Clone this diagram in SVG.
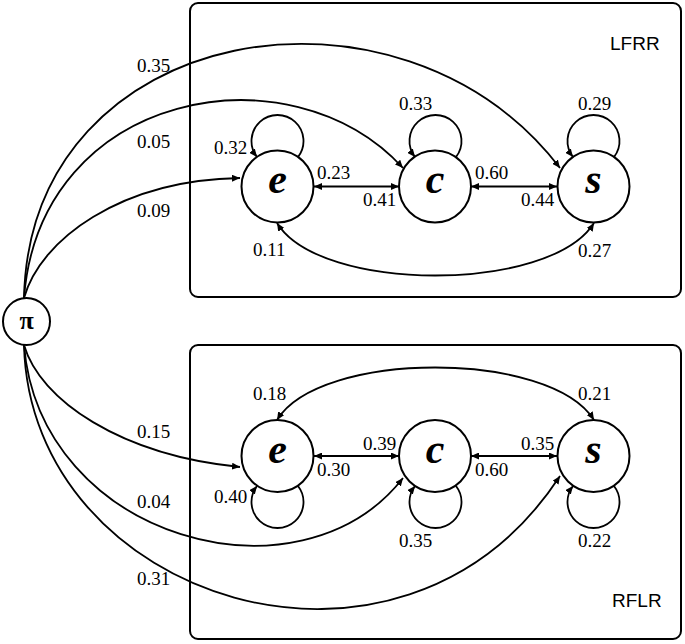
<svg xmlns="http://www.w3.org/2000/svg" width="685" height="644" viewBox="0 0 685 644">
<style>
.box{fill:none;stroke:#000;stroke-width:2}
.node{fill:#fff;stroke:#000;stroke-width:2}
.nl{font-family:"Liberation Serif",serif;font-weight:bold;font-style:italic;font-size:42px;text-anchor:middle}
.pl{font-family:"Liberation Serif",serif;font-weight:bold;font-size:26px;text-anchor:middle}
.e{fill:none;stroke:#000;stroke-width:1.8}
.one{marker-end:url(#ah)}
.two{marker-start:url(#ah);marker-end:url(#ah)}
.lb{font-family:"Liberation Serif",serif;font-size:19px;fill:#000}
.tt{font-family:"Liberation Sans",Arial,sans-serif;font-size:19px;fill:#000}
</style>
<defs>
<marker id="ah" markerUnits="userSpaceOnUse" markerWidth="9" markerHeight="7" refX="8" refY="3.5" orient="auto-start-reverse">
<path d="M0,0 L8,3.5 L0,7 z" fill="#000"/>
</marker>
</defs>
<rect width="685" height="644" fill="#fff"/>
<g id="box-lfrr">
<rect class="box" x="190" y="3" width="491" height="294" rx="8"/>
<text class="tt" x="610" y="50">LFRR</text>
</g>
<g id="box-rflr">
<rect class="box" x="190" y="345" width="491" height="294" rx="8"/>
<text class="tt" x="612" y="607">RFLR</text>
</g>
<g id="connectors">
<path class="e one" d="M24,298 C30,20 400,-40 560,168"/>
<path class="e one" d="M24,298 C40,90 290,45 403,168"/>
<path class="e one" d="M24,298 C40,240 120,180 240,178"/>
<path class="e one" d="M24,345 C40,400 120,455 240,467"/>
<path class="e one" d="M24,345 C40,540 300,610 403,478"/>
<path class="e one" d="M24,345 C30,600 400,720 560,476"/>
<path class="e one" d="M298,157 A26,26 0 1 0 257,157"/>
<path class="e one" d="M456,157 A26,26 0 1 0 415,157"/>
<path class="e one" d="M614,157 A26,26 0 1 0 573,157"/>
<path class="e one" d="M298,486 A26,26 0 1 1 257,486"/>
<path class="e one" d="M456,486 A26,26 0 1 1 415,486"/>
<path class="e one" d="M614,486 A26,26 0 1 1 573,486"/>
<path class="e two" d="M314,186.5 L399,186.5"/>
<path class="e two" d="M471,186.5 L557,186.5"/>
<path class="e two" d="M314,456 L399,456"/>
<path class="e two" d="M471,456 L557,456"/>
<path class="e two" d="M277,223 C320,293 550,293 594,223"/>
<path class="e two" d="M277,420 C320,350 550,350 594,420"/>
</g>
<g id="node-pi">
<circle class="node" cx="26.5" cy="321.5" r="23.5"/>
<text class="pl" x="26.5" y="329">π</text>
</g>
<g id="node-e-top"><circle class="node" cx="277.5" cy="186.5" r="36"/><text class="nl" x="277.5" y="193">e</text></g>
<g id="node-c-top"><circle class="node" cx="435" cy="186.5" r="36"/><text class="nl" x="435" y="193">c</text></g>
<g id="node-s-top"><circle class="node" cx="593.5" cy="186.5" r="36"/><text class="nl" x="593.5" y="193">s</text></g>
<g id="node-e-bot"><circle class="node" cx="277.5" cy="456" r="36"/><text class="nl" x="277.5" y="463">e</text></g>
<g id="node-c-bot"><circle class="node" cx="435" cy="456" r="36"/><text class="nl" x="435" y="463">c</text></g>
<g id="node-s-bot"><circle class="node" cx="593.5" cy="456" r="36"/><text class="nl" x="593.5" y="463">s</text></g>
<g id="labels">
<text class="lb" x="137" y="72">0.35</text>
<text class="lb" x="137" y="148">0.05</text>
<text class="lb" x="137" y="217">0.09</text>
<text class="lb" x="214" y="154">0.32</text>
<text class="lb" x="317" y="179">0.23</text>
<text class="lb" x="363" y="206">0.41</text>
<text class="lb" x="399" y="110">0.33</text>
<text class="lb" x="475" y="179">0.60</text>
<text class="lb" x="521" y="206">0.44</text>
<text class="lb" x="578" y="110">0.29</text>
<text class="lb" x="253" y="256">0.11</text>
<text class="lb" x="578" y="257">0.27</text>
<text class="lb" x="253" y="400">0.18</text>
<text class="lb" x="578" y="400">0.21</text>
<text class="lb" x="363" y="450">0.39</text>
<text class="lb" x="521" y="450">0.35</text>
<text class="lb" x="317" y="476">0.30</text>
<text class="lb" x="475" y="476">0.60</text>
<text class="lb" x="214" y="503">0.40</text>
<text class="lb" x="399" y="547">0.35</text>
<text class="lb" x="578" y="547">0.22</text>
<text class="lb" x="137" y="438">0.15</text>
<text class="lb" x="137" y="508">0.04</text>
<text class="lb" x="137" y="585">0.31</text>
</g>
</svg>
